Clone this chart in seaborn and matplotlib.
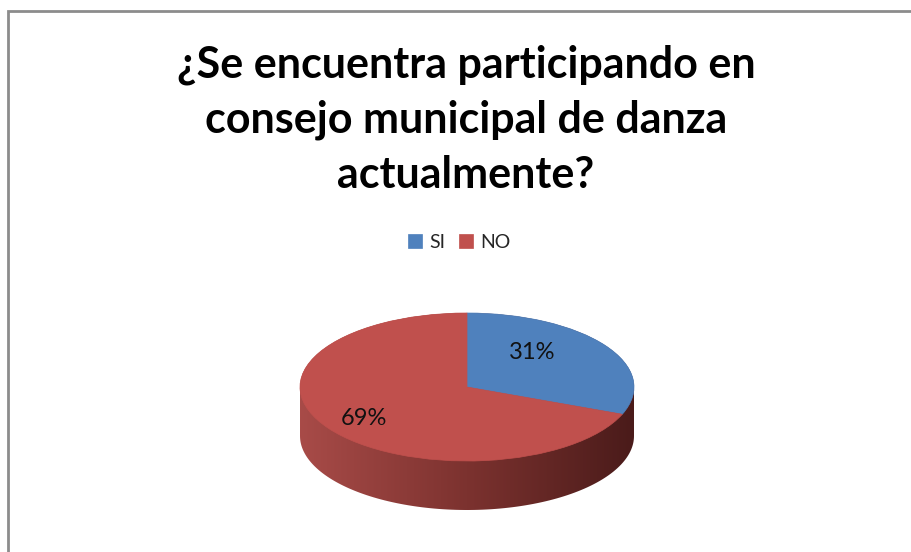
import numpy as np
import matplotlib
matplotlib.use("Agg")
import matplotlib.pyplot as plt
from matplotlib.patches import Polygon, Rectangle
from matplotlib.colors import LinearSegmentedColormap
import seaborn as sns

# ── Data ──────────────────────────────────────────────
categories = ["SI", "NO"]
values = [31, 69]
colors = ["#4F81BD", "#C0504D"]
title = "¿Se encuentra participando en\nconsejo municipal de danza\nactualmente?"

# ── Style ─────────────────────────────────────────────
sns.set_theme(style="white")
plt.rcParams["font.family"] = ["Lato", "DejaVu Sans"]

W, H = 912, 552
fig = plt.figure(figsize=(W / 100, H / 100), dpi=100)

# pie geometry in pixels (top face centre, radii) and side depth
cx, cy, rx, ry = 467, 387, 167, 74
depth = 49 / 74
pad = 0.1
ax = fig.add_axes([
    (cx - rx * (1 + pad)) / W,
    (H - (cy + ry * (1 + depth + pad))) / H,
    2 * rx * (1 + pad) / W,
    ry * (2 + depth + 2 * pad) / H,
])

# ── 3D side (gradient clipped to the cylinder wall) ───
t_top = np.linspace(0, np.pi, 120)
t_bot = np.linspace(np.pi, 2 * np.pi, 120)
verts = np.vstack([
    np.column_stack([np.cos(t_top), np.sin(t_top)]),
    np.column_stack([np.cos(t_bot), np.sin(t_bot) - depth]),
])
wall = Polygon(verts, closed=True, facecolor="none", edgecolor="none")
ax.add_patch(wall)
side_cmap = LinearSegmentedColormap.from_list("side", ["#a84b48", "#7c322f", "#4a1b1a"])
im = ax.imshow(np.linspace(0, 1, 256)[None, :], cmap=side_cmap,
               extent=(-1, 1, -1 - depth, 1), aspect="auto", zorder=0.5)
im.set_clip_path(wall)

# ── Top face ──────────────────────────────────────────
wedges, texts, autotexts = ax.pie(
    values, colors=colors, startangle=90, counterclock=False,
    autopct="%1.0f%%", pctdistance=0.62,
    textprops=dict(fontsize=17, color="#111111"),
)
for w in wedges:
    w.set_edgecolor(w.get_facecolor())
    w.set_linewidth(0.5)
# nudge the percentage labels to where the original chart put them
autotexts[0].set_position((0.39, 0.47))
autotexts[1].set_position((-0.62, -0.42))

ax.set_aspect("auto")
ax.set_xlim(-1 - pad, 1 + pad)
ax.set_ylim(-1 - depth - pad, 1 + pad)
ax.axis("off")

# ── Title, legend, frame ──────────────────────────────
fig.text(466 / W, 1 - 120 / H, title, ha="center", va="center",
         fontsize=31, fontweight="bold", linespacing=1.44, color="black")

fig.legend(wedges, categories, loc="center", bbox_to_anchor=(459 / W, 1 - 242 / H),
           ncol=2, frameon=False, fontsize=14, handlelength=0.75, handleheight=0.75,
           handletextpad=0.35, columnspacing=0.7)

fig.add_artist(Rectangle((8 / W, -0.1), 1.1, 1 - 11 / H + 0.1, transform=fig.transFigure,
                         fill=False, edgecolor="#8c8c8c", linewidth=2))

fig.savefig("out.png", dpi=100)
